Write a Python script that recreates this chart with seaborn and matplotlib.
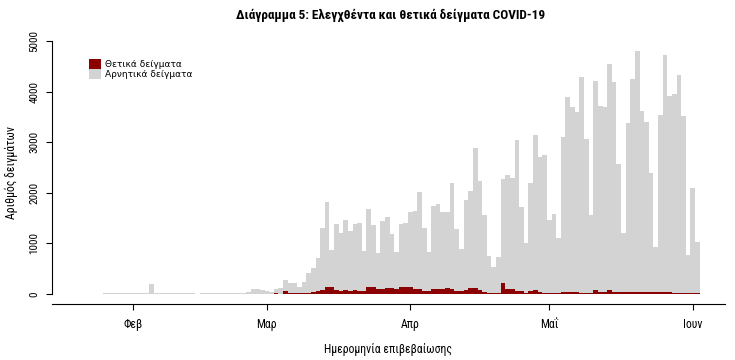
"""
Διάγραμμα 5: Ελεγχθέντα και θετικά δείγματα COVID-19
Stacked daily bars (θετικά κάτω, αρνητικά πάνω)
"""

import numpy as np
import pandas as pd
import matplotlib
matplotlib.use('Agg')
import matplotlib.pyplot as plt
import seaborn as sns
from matplotlib.patches import Patch

# ──────────────────────────────────────────────
# 1. DATA (ανά ημέρα, 26 Ιαν - 2 Ιουν 2020)
# ──────────────────────────────────────────────
dates = pd.date_range('2020-01-26', '2020-06-02', freq='D')

# συνολικά δείγματα που ελέγχθηκαν
tested = [
    15, 15, 15, 15, 15, 15,                                   # 26-31 Ιαν
    15, 15, 15, 15, 190, 10, 10, 10, 10, 10, 10, 10, 10, 10,  # 1-10 Φεβ
    0, 10, 10, 10, 10, 10, 10, 10, 10, 10,                    # 11-20 Φεβ
    10, 45, 105, 105, 73, 60, 33, 105, 110, 277,               # 21 Φεβ - 5 Μαρ
    211, 211, 145, 244, 408, 520, 705, 1298, 1824, 865,        # 6-15 Μαρ
    1385, 1205, 1462, 1250, 1380, 1409, 856, 1685, 1370, 804,  # 16-25 Μαρ
    1449, 1528, 1183, 830, 1390, 1410, 1614, 1640, 2020, 1311, # 26 Μαρ - 4 Απρ
    824, 1739, 1778, 1627, 1614, 2187, 1278, 889, 1857, 2041,  # 5-14 Απρ
    2879, 2239, 1561, 757, 540, 738, 2272, 2345, 2300, 3050,   # 15-24 Απρ
    1725, 1010, 2200, 3142, 2713, 2750, 1462, 1581, 1100, 3096, # 25 Απρ - 4 Μαΐ
    3885, 3701, 3602, 4285, 3057, 1555, 4212, 3715, 3705, 4540, # 5-14 Μαΐ
    4195, 2569, 1211, 3373, 4242, 4808, 3622, 3405, 2397, 923,  # 15-24 Μαΐ
    3537, 4723, 3912, 3952, 4327, 3517, 771, 2088, 1021,        # 25 Μαΐ - 2 Ιουν
]

# θετικά δείγματα
positive = [
    0, 0, 0, 0, 0, 0,
    0, 0, 0, 0, 0, 0, 0, 0, 0, 0, 0, 0, 0, 0,
    0, 0, 0, 0, 0, 0, 0, 0, 0, 0,
    0, 3, 8, 5, 0, 0, 8, 10, 5, 59,
    10, 10, 15, 15, 25, 40, 60, 75, 135, 140,
    80, 65, 70, 65, 70, 65, 60, 135, 130, 95,
    105, 110, 112, 100, 135, 140, 130, 100, 95, 60,
    55, 95, 100, 105, 110, 100, 60, 55, 70, 120,
    125, 70, 40, 20, 10, 15, 220, 100, 95, 65,
    60, 20, 65, 80, 45, 25, 15, 15, 10, 35,
    35, 35, 35, 25, 25, 25, 80, 35, 35, 80,
    30, 30, 30, 35, 35, 35, 35, 30, 30, 30,
    35, 35, 35, 20, 20, 20, 10, 10, 10,
]

month_starts = ['2020-02-01', '2020-03-01', '2020-04-01', '2020-05-01', '2020-06-01']
month_labels = ['Φεβ', 'Μαρ', 'Απρ', 'Μαΐ', 'Ιουν']

POS_LABEL = 'Θετικά δείγματα'
NEG_LABEL = 'Αρνητικά δείγματα'
POS_COLOR = '#8b0000'
NEG_COLOR = '#d3d3d3'

# ──────────────────────────────────────────────
# 2. DATAFRAME (long format για seaborn)
# ──────────────────────────────────────────────
day0 = pd.Timestamp('2020-02-01')
day = np.asarray((dates - day0).days)
negative = np.array(tested) - np.array(positive)
n = len(dates)

df = pd.DataFrame({
    'day':   np.concatenate([day, day]),
    'count': np.concatenate([positive, negative]),
    'type':  [POS_LABEL] * n + [NEG_LABEL] * n,
})

tick_pos = [(pd.Timestamp(m) - day0).days for m in month_starts]

# ──────────────────────────────────────────────
# 3. PLOT
# ──────────────────────────────────────────────
sns.set_style('white')
COND = ['Roboto Condensed', 'Liberation Sans Narrow', 'Roboto', 'DejaVu Sans']
plt.rcParams['font.family'] = COND
plt.rcParams['text.color'] = 'black'
plt.rcParams['axes.labelcolor'] = 'black'
plt.rcParams['xtick.color'] = 'black'
plt.rcParams['ytick.color'] = 'black'

fig = plt.figure(figsize=(7.35, 3.6), dpi=100)
ax = fig.add_axes([0.0703, 0.1564, 0.9157, 0.7297])

# stack: το τελευταίο επίπεδο hue μπαίνει κάτω
sns.histplot(data=df, x='day', weights='count', hue='type',
             hue_order=[NEG_LABEL, POS_LABEL],
             palette=[NEG_COLOR, POS_COLOR],
             multiple='stack', discrete=True, alpha=1,
             linewidth=0, antialiased=False, legend=False, ax=ax)

ax.set_xlim(-17.5, 127.9)
ax.set_ylim(-0.04 * 4808, 1.04 * 4808)

ax.set_yticks([0, 1000, 2000, 3000, 4000, 5000])
ax.set_yticklabels(['0', '1000', '2000', '3000', '4000', '5000'],
                   rotation=90, va='center', fontsize=8)
ax.set_xticks(tick_pos)
ax.set_xticklabels(month_labels, fontsize=8.5)

for s in ['top', 'right']:
    ax.spines[s].set_visible(False)
ax.spines['left'].set_bounds(0, 5000)
ax.spines['bottom'].set_bounds(-17.5, 127.9)
for s in ['left', 'bottom']:
    ax.spines[s].set_color('black')
    ax.spines[s].set_linewidth(0.8)

ax.tick_params(axis='both', bottom=True, left=True, direction='out',
               length=4, width=0.8, color='black')
ax.tick_params(axis='y', pad=5)
ax.tick_params(axis='x', pad=6)

ax.set_xlabel('Ημερομηνία επιβεβαίωσης', fontsize=8.5, labelpad=9)
ax.set_ylabel('Αριθμός δειγμάτων', fontsize=8.5, labelpad=8)
ax.grid(False)

fig.suptitle('Διάγραμμα 5: Ελεγχθέντα και θετικά δείγματα COVID-19',
             x=0.532, y=0.975, fontsize=9.5, fontweight='bold')

handles = [Patch(facecolor=POS_COLOR, edgecolor='none', label=POS_LABEL),
           Patch(facecolor=NEG_COLOR, edgecolor='none', label=NEG_LABEL)]
ax.legend(handles=handles, loc='upper left', bbox_to_anchor=(0.0554, 0.9315),
          frameon=False, borderpad=0, borderaxespad=0, labelspacing=0,
          handlelength=1.3, handleheight=1.3, handletextpad=0.45,
          prop={'family': 'DejaVu Sans', 'size': 6.5})

plt.savefig('out.png', dpi=100)
